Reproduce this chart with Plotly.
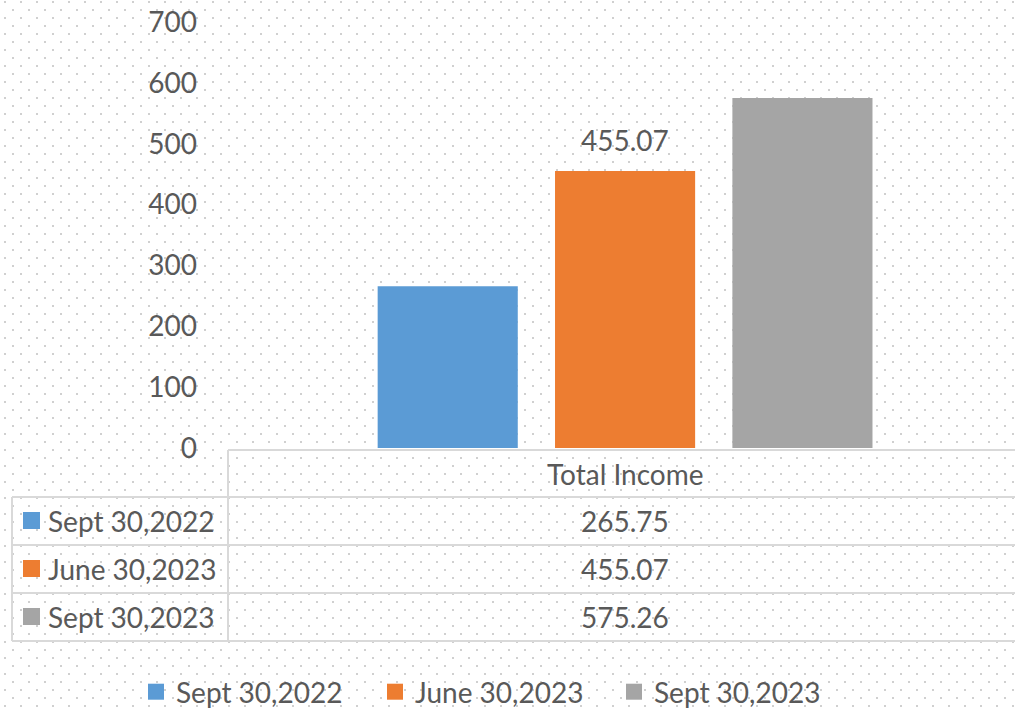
import base64
import plotly.graph_objects as go

# Data
category = "Total Income"
periods = ["Sept 30,2022", "June 30,2023", "Sept 30,2023"]
values = [265.75, 455.07, 575.26]
colors = ["#5b9bd5", "#ed7d31", "#a5a5a5"]
labelled = [False, True, False]   # only the middle bar carries a data label
y_ticks = [0, 100, 200, 300, 400, 500, 600, 700]

W, H = 1015, 710
FONT = "Lato, Open Sans, sans-serif"
FS = 28
TXT = "#595959"
LINE = "#d9d9d9"

# plot area in pixels
L, T, B = 228, 22, 262
PW, PH = W - L, H - T - B

def px(pix):
    # pixel x -> paper x (paper = plot area)
    return (pix - L) / PW

def py(pix):
    # pixel y from top -> paper y
    return (H - B - pix) / PH

# dotted background (staggered grey dots, like the office "dotted" fill)
svg = (
    f'<svg xmlns="http://www.w3.org/2000/svg" width="{W}" height="{H}" viewBox="0 0 {W} {H}">'
    '<defs><pattern id="p" width="16" height="16" patternUnits="userSpaceOnUse">'
    '<rect x="4" y="1" width="2" height="2" fill="#d0d0d0"/>'
    '<rect x="12" y="9" width="2" height="2" fill="#d0d0d0"/>'
    '</pattern></defs>'
    f'<rect width="{W}" height="{H}" fill="url(#p)"/></svg>'
)
bg_src = "data:image/svg+xml;base64," + base64.b64encode(svg.encode()).decode()

fig = go.Figure()

for name, v, c in zip(periods, values, colors):
    fig.add_trace(go.Bar(
        x=[category],
        y=[v],
        name=name,
        marker=dict(color=c, line=dict(width=0)),
        showlegend=False,
    ))
    # legend-only entry so the key is a bigger square, like the original
    fig.add_trace(go.Scatter(
        x=[None], y=[None], mode="markers", name=name,
        marker=dict(symbol="square", size=16, color=c),
    ))

shapes = []
annotations = []

# data label on the middle bar only
for name, v, lab in zip(periods, values, labelled):
    if lab:
        annotations.append(dict(text=f"{v:.2f}", xref="x", yref="y", x=category, y=v,
                                yanchor="bottom", yshift=12, showarrow=False,
                                font=dict(size=FS, color=TXT, family=FONT)))

row_lines = [450, 497, 545, 593, 641]
line_style = dict(color=LINE, width=2)
# header row only spans the data column
shapes.append(dict(type="line", xref="paper", yref="paper",
                   x0=0, x1=1, y0=py(row_lines[0]), y1=py(row_lines[0]), line=line_style))
for yy in row_lines[1:]:
    shapes.append(dict(type="line", xref="paper", yref="paper",
                       x0=px(12), x1=1, y0=py(yy), y1=py(yy), line=line_style))
shapes.append(dict(type="line", xref="paper", yref="paper",
                   x0=0, x1=0, y0=py(row_lines[0]), y1=py(row_lines[-1]), line=line_style))
shapes.append(dict(type="line", xref="paper", yref="paper",
                   x0=px(12), x1=px(12), y0=py(row_lines[1]), y1=py(row_lines[-1]), line=line_style))

annotations.append(dict(text=category, xref="x", yref="paper", x=category,
                        y=py((row_lines[0] + row_lines[1]) / 2), yanchor="middle",
                        showarrow=False, font=dict(size=FS, color=TXT, family=FONT)))
for i, (name, v, c) in enumerate(zip(periods, values, colors)):
    yc_pix = (row_lines[i + 1] + row_lines[i + 2]) / 2
    annotations.append(dict(text=f"{v:.2f}", xref="x", yref="paper", x=category,
                            y=py(yc_pix), yanchor="middle", showarrow=False,
                            font=dict(size=FS, color=TXT, family=FONT)))
    shapes.append(dict(type="rect", xref="paper", yref="paper",
                       x0=px(23), x1=px(40), y0=py(yc_pix + 8), y1=py(yc_pix - 9),
                       fillcolor=c, line=dict(width=0)))
    annotations.append(dict(text=name, xref="paper", yref="paper", x=px(46),
                            y=py(yc_pix), xanchor="left", yanchor="middle", showarrow=False,
                            font=dict(size=FS, color=TXT, family=FONT)))

fig.update_layout(
    width=W, height=H,
    margin=dict(l=L, r=0, t=T, b=B, autoexpand=False),
    paper_bgcolor="white",
    plot_bgcolor="rgba(0,0,0,0)",
    barmode="group",
    bargap=0.33,
    bargroupgap=0.21,
    images=[dict(source=bg_src, xref="paper", yref="paper", x=-L / PW, y=1 + T / PH,
                 sizex=W / PW, sizey=H / PH, xanchor="left", yanchor="top",
                 sizing="stretch", layer="below")],
    xaxis=dict(range=[-0.5, 0.491], showticklabels=False, showgrid=False,
               zeroline=False, showline=False),
    yaxis=dict(range=[0, 700], tickvals=y_ticks, showgrid=False, zeroline=False,
               showline=False, ticklabelstandoff=30,
               tickfont=dict(size=FS, color=TXT, family=FONT)),
    showlegend=True,
    legend=dict(orientation="h", xref="container", yref="container",
                x=136 / W, xanchor="left", y=(H - 692) / H, yanchor="middle",
                font=dict(size=FS, color=TXT, family=FONT),
                bgcolor="rgba(0,0,0,0)", itemwidth=30,
                entrywidth=194, entrywidthmode="pixels"),
    shapes=shapes,
    annotations=annotations,
)

fig.write_html("out.html", config={"displayModeBar": False},
               post_script="document.body.style.margin='0';")
